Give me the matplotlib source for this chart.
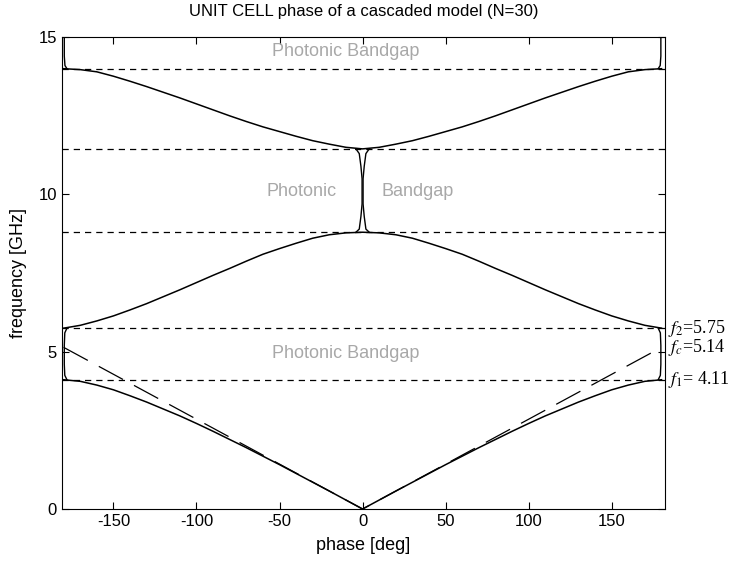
import numpy as np
import matplotlib
matplotlib.use("Agg")
import matplotlib.pyplot as plt

plt.rcParams['font.family'] = ['Liberation Sans', 'DejaVu Sans']
plt.rcParams['mathtext.fontset'] = 'stix'
plt.rcParams['axes.unicode_minus'] = False

# unit cell phase (deg), one half of the Brillouin zone - mirrored for negative phase
phase_half = [0, 10, 20, 30, 40, 50, 60, 70, 80, 90, 100, 110, 120, 130, 140, 150, 160, 170, 180]
band1 = [0.0, 0.285, 0.57, 0.85, 1.13, 1.41, 1.68, 1.95, 2.21, 2.47, 2.72,
         2.96, 3.18, 3.40, 3.60, 3.79, 3.94, 4.06, 4.11]
band2 = [8.80, 8.78, 8.72, 8.61, 8.45, 8.28, 8.10, 7.88, 7.65, 7.43, 7.20,
         6.97, 6.75, 6.53, 6.33, 6.14, 5.98, 5.84, 5.75]
band3 = [11.45, 11.50, 11.60, 11.71, 11.85, 12.00, 12.15, 12.32, 12.50, 12.69, 12.88,
         13.07, 13.25, 13.43, 13.60, 13.76, 13.90, 13.97, 14.00]

# band edge levels [GHz]
gap_edges = [4.11, 5.75, 8.80, 11.45, 14.00]
f1, fc, f2 = 4.11, 5.14, 5.75

# light line
light_phase = [-180, 0, 180]
light_freq = [fc, 0, fc]

# phase inside the gaps (near 0 / +-180)
gap0_phase = [-4, -2, -1, -0.3, -0.3, -1, -2, -4]
gap0_freq = [11.45, 11.3, 10.9, 10.5, 9.7, 9.3, 8.9, 8.8]
gapE_phase = [178, 179.3, 179.6, 179.6, 179.3, 178]
gapE_freq = [5.75, 5.6, 5.2, 4.6, 4.25, 4.11]
gapT_phase = [178, 179.2, 179.6, 179.6]
gapT_freq = [14.0, 14.1, 14.4, 15.0]

fig = plt.figure(figsize=(7.29, 5.64), dpi=100)
ax = fig.add_axes([0.085, 0.0975, 0.827, 0.8365])

ph = np.array(phase_half)
for band in (band1, band2, band3):
    b = np.array(band)
    x = np.concatenate([-ph[::-1], ph[1:]])
    y = np.concatenate([b[::-1], b[1:]])
    ax.plot(x, y, color='black', linewidth=1.1)

for gp, gf in ((gap0_phase, gap0_freq), (gapE_phase, gapE_freq), (gapT_phase, gapT_freq)):
    gp = np.array(gp)
    ax.plot(gp, gf, color='black', linewidth=1.0)
    ax.plot(-gp, gf, color='black', linewidth=1.0)

for lvl in gap_edges:
    ax.axhline(lvl, color='black', linewidth=0.9, linestyle=(0, (5, 4)))

ax.plot(light_phase, light_freq, color='black', linewidth=0.9, linestyle=(0, (22, 10)))

grey = '#a8a8a8'
ax.text(-10, 14.55, 'Photonic Bandgap', color=grey, fontsize=13, ha='center', va='center')
ax.text(-37, 10.1, 'Photonic', color=grey, fontsize=13, ha='center', va='center')
ax.text(33, 10.1, 'Bandgap', color=grey, fontsize=13, ha='center', va='center')
ax.text(-10, 4.93, 'Photonic Bandgap', color=grey, fontsize=13, ha='center', va='center')

for txt, lvl in ((r'$f_2$=5.75', f2), (r'$f_c$=5.14', fc), (r'$f_1$= 4.11', f1)):
    ax.text(184, lvl, txt, fontsize=13, family='Liberation Serif', ha='left', va='center',
            clip_on=False)

ax.set_xlim(-181, 182)
ax.set_ylim(0, 15)
ax.set_xticks([-150, -100, -50, 0, 50, 100, 150])
ax.set_yticks([0, 5, 10, 15])
ax.tick_params(direction='in', top=True, right=True, labelsize=12, length=5)
ax.set_xlabel('phase [deg]', fontsize=13, labelpad=6)
ax.set_ylabel('frequency [GHz]', fontsize=13, labelpad=8)
ax.set_title('UNIT CELL phase of a cascaded model (N=30)', fontsize=12, pad=15)

fig.savefig('out.png', dpi=100)
